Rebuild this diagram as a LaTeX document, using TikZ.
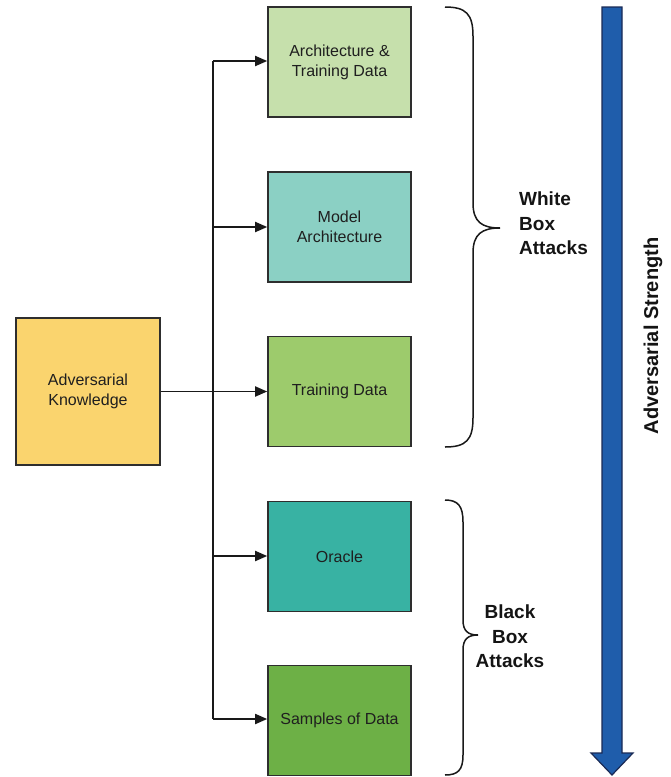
\documentclass[tikz,border=0pt]{standalone}
\usepackage{fontspec}
\setmainfont{Liberation Sans}
\usetikzlibrary{arrows.meta}
\definecolor{boxline}{HTML}{2E2E2E}
\definecolor{cYellow}{HTML}{FAD46E}
\definecolor{cPale}{HTML}{C6E0AC}
\definecolor{cAqua}{HTML}{8BD0C4}
\definecolor{cGreen}{HTML}{9DCB6C}
\definecolor{cTeal}{HTML}{38B2A3}
\definecolor{cDeep}{HTML}{6DB046}
\definecolor{cBlue}{HTML}{1F5DAB}
\definecolor{cBlueEdge}{HTML}{1A2A55}
\tikzset{
  infobox/.style={draw=boxline, line width=1.6pt, minimum width=143pt, minimum height=110pt,
    inner sep=0pt, align=center, text=black!88,
    font=\fontsize{16pt}{20pt}\selectfont},
  link/.style={draw=black!90, line width=1.8pt},
  linkarrow/.style={link, -{Triangle[length=12pt,width=10pt]}},
  bracket/.style={draw=black!90, line width=1.5pt},
  biglabel/.style={font=\bfseries\fontsize{19pt}{24.5pt}\selectfont, text=black!92, inner sep=0pt}
}
\begin{document}
\begin{tikzpicture}[x=1pt,y=-1pt]
\useasboundingbox (0,0) rectangle (670,777);
\fill[white] (0,0) rectangle (670,777);

% left source box
\node[infobox, fill=cYellow, minimum width=144pt, minimum height=147pt] (ak) at (88,391.5) {Adversarial\\Knowledge};

% knowledge levels
\node[infobox, fill=cPale]  (atd)   at (339.5,62)  {Architecture \&\\Training Data};
\node[infobox, fill=cAqua]  (march) at (339.5,227) {Model\\Architecture};
\node[infobox, fill=cGreen] (tdata) at (339.5,391.5) {Training Data};
\node[infobox, fill=cTeal]  (orc)   at (339.5,556.5) {Oracle};
\node[infobox, fill=cDeep]  (samp)  at (339.5,720.5) {Samples of Data};

% vertical trunk
\coordinate (ttop) at (213,61);
\coordinate (tbot) at (213,719);
\coordinate (tm2) at (213,227);
\coordinate (tm4) at (213,556);
\draw[link] (ttop) -- (tbot);
\draw[linkarrow] (ttop) -- (atd.west |- ttop);
\draw[linkarrow] (tm2) -- (march.west |- tm2);
\draw[linkarrow] (ak.east |- tdata.west) -- (tdata.west);
\draw[linkarrow] (tm4) -- (orc.west |- tm4);
\draw[linkarrow] (tbot) -- (samp.west |- tbot);

% braces
\draw[bracket] (445,7) .. controls (466,7) and (473,14) .. (473,36) -- (473,203)
  .. controls (473,222) and (482,228) .. (500,228)
  .. controls (482,228) and (473,234) .. (473,253) -- (473,418)
  .. controls (473,440) and (466,447) .. (445,447);
\draw[bracket] (445,500) .. controls (458,500) and (463,506) .. (463,522) -- (463,620)
  .. controls (463,631) and (468,635) .. (478,635)
  .. controls (468,635) and (463,639) .. (463,650) -- (463,755)
  .. controls (463,770) and (458,775) .. (445,775);

\node[biglabel, align=left, anchor=north west] (wba) at (519,192) {White\\Box\\Attacks};
\node[biglabel, align=center, anchor=north] (bba) at (510,605) {Black\\Box\\Attacks};

% strength arrow
\draw[fill=cBlue, draw=cBlueEdge, line width=1.2pt]
  (602,7) -- (622,7) -- (622,753) -- (633,753) -- (612,775) -- (591,753) -- (602,753) -- cycle;
\node[biglabel, font=\bfseries\fontsize{20pt}{24pt}\selectfont, rotate=90] (strength) at (653,336) {Adversarial Strength};
\end{tikzpicture}
\end{document}
